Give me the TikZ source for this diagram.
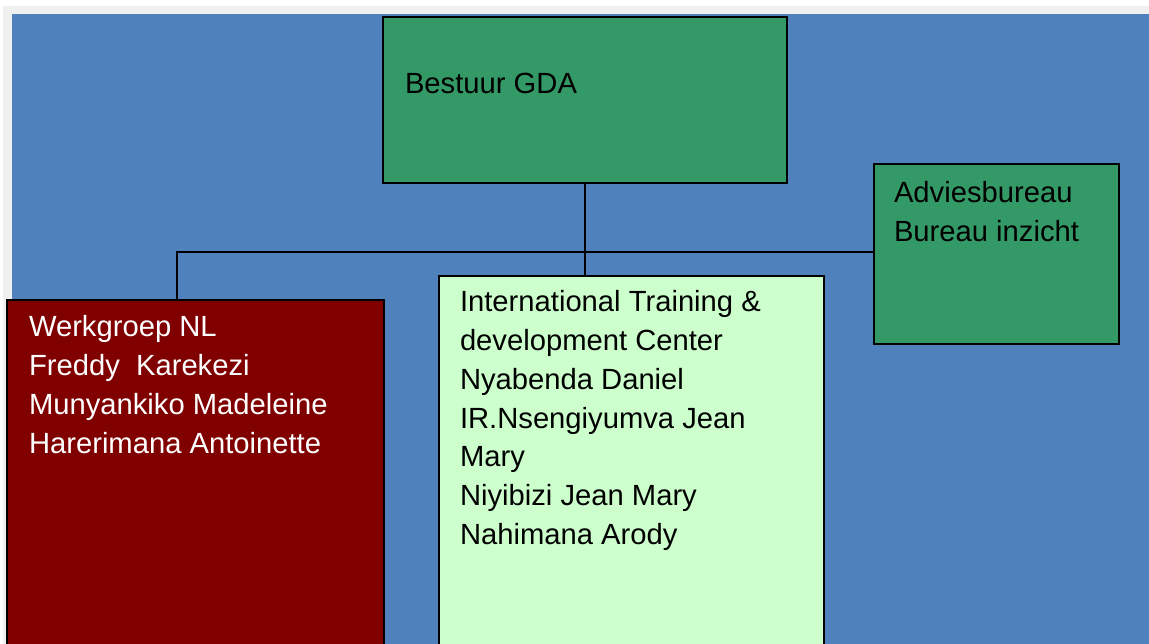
\documentclass[tikz,border=0pt]{standalone}
\usepackage{fontspec}
\setmainfont{Liberation Sans}
\definecolor{bgblue}{HTML}{4F81BD}
\definecolor{boxgreen}{HTML}{339966}
\definecolor{boxred}{HTML}{800000}
\definecolor{boxlight}{HTML}{CCFFCC}
\definecolor{edgegray}{HTML}{F0F0F0}
\tikzset{
  orgbox/.style={draw=black, line width=2pt, inner sep=0pt, outer sep=0pt, anchor=north west},
  orgtext/.style={anchor=base west, inner sep=0pt, outer sep=0pt,
    font=\fontsize{29.2}{38.7}\selectfont},
  link/.style={draw=black, line width=2pt}
}
\newcommand{\lines}[1]{\parbox[t]{420pt}{\raggedright #1}}
\begin{document}
\begin{tikzpicture}[x=1pt,y=-1pt]
\useasboundingbox (0,0) rectangle (1149,644);
\fill[white] (-5,-5) rectangle (1160,660);
\fill[edgegray] (3,6) rectangle (1160,660);
\fill[bgblue] (12,14) rectangle (1160,660);
% boxes
\node[orgbox, fill=boxgreen, minimum width=404pt, minimum height=166pt] (top) at (383,17) {};
\node[orgbox, fill=boxgreen, minimum width=245pt, minimum height=180pt] (adv) at (874,164) {};
\node[orgbox, fill=boxred, minimum width=377pt, minimum height=380pt] (red) at (7,300) {};
\node[orgbox, fill=boxlight, minimum width=385pt, minimum height=400pt] (lg) at (439,276) {};
% connectors
\coordinate (jl) at (177,252);
\coordinate (jm) at (top.south |- jl);
\draw[link] (top.south) -- (jm);
\draw[link] (jm) -- (top.south |- lg.north);
\draw[link] ([xshift=-1pt]jl) -- (adv.west |- jl);
\draw[link] (jl) -- (jl |- red.north);
% texts
\node[orgtext] (ttop) at (405,94) {Bestuur GDA};
\node[orgtext] (tadv) at (894,203) {\lines{Adviesbureau\\Bureau inzicht}};
\node[orgtext, text=white] (tred) at (29,337) {\lines{Werkgroep NL\\Freddy\ \ Karekezi\\Munyankiko Madeleine\\Harerimana Antoinette}};
\node[orgtext] (tlg) at (460,312) {\lines{International Training \&\\development Center\\Nyabenda Daniel\\IR.Nsengiyumva Jean\\Mary\\Niyibizi Jean Mary\\Nahimana Arody}};
\end{tikzpicture}
\end{document}
